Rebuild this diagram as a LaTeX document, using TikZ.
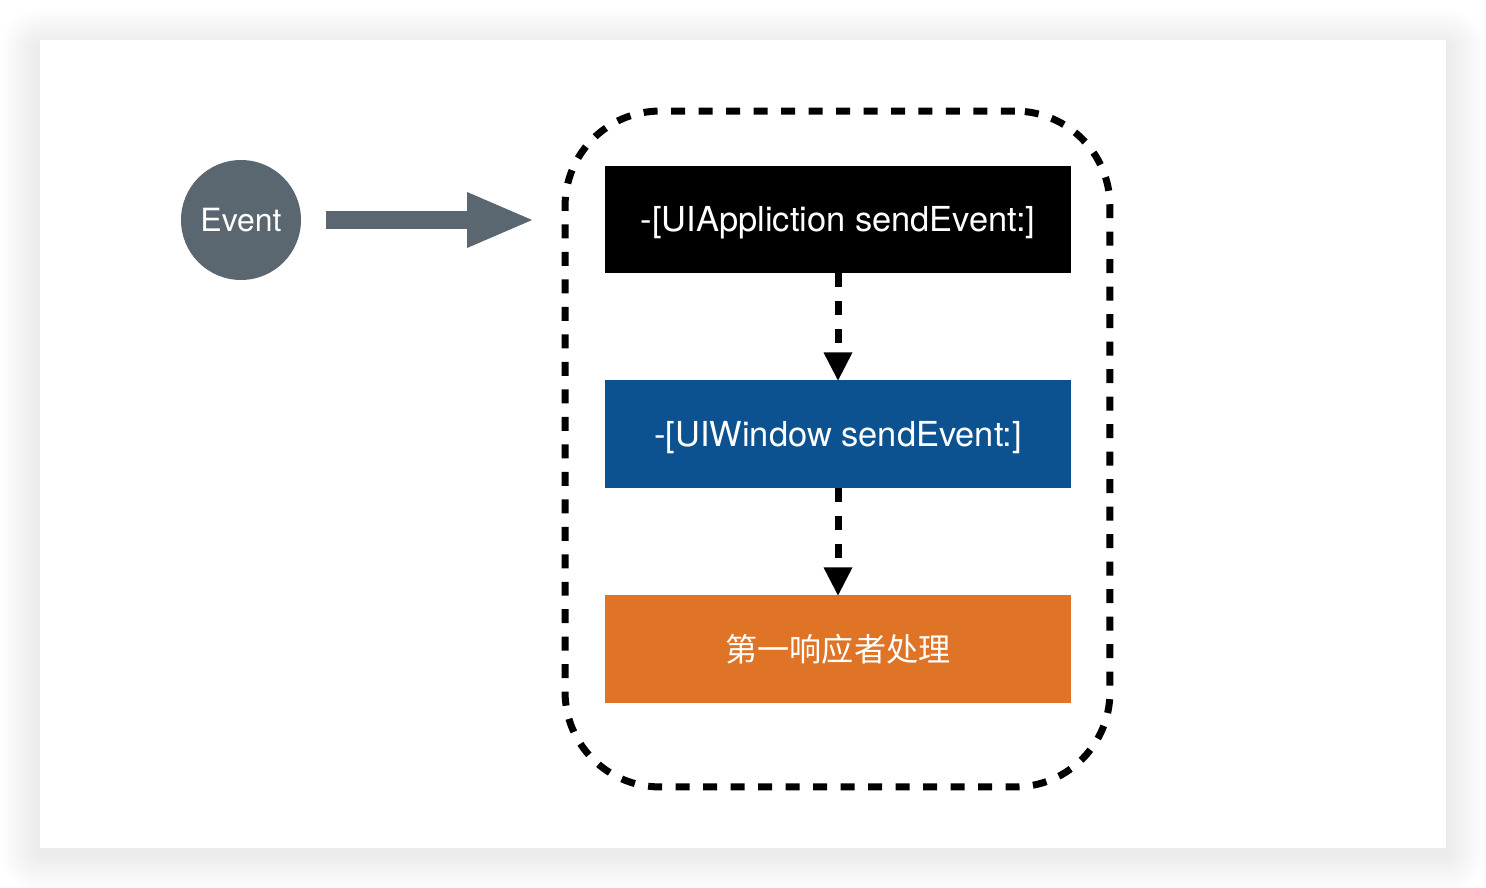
\documentclass[tikz,border=0pt]{standalone}
\usepackage{fontspec}
\setmainfont{TeX Gyre Heros}
\newfontfamily\cjk{Noto Sans CJK SC}
\usepackage{tikz}
\usetikzlibrary{shapes,arrows,arrows.meta,positioning,calc}
\definecolor{eventgray}{HTML}{5A6670}
\definecolor{windowblue}{HTML}{0C5190}
\definecolor{responderorange}{HTML}{E07426}

\begin{document}
\begin{tikzpicture}[x=0.02cm, y=-0.02cm, node distance=2.14cm,
  box/.style={minimum width=9.32cm, minimum height=2.16cm, inner sep=0pt, outer sep=0pt, text height=14.1pt, text depth=0pt, text=white, font=\fontsize{19.6}{23}\selectfont},
  event/.style={circle, fill=eventgray, minimum size=2.4cm, inner sep=0pt, outer sep=0pt, text=white, font=\fontsize{18.2}{22}\selectfont},
  group/.style={draw, line width=0.14cm, dash pattern=on 0.28cm off 0.27cm, rounded corners=1.9cm, minimum width=10.9cm, minimum height=13.52cm, outer sep=0pt},
  bigarrow/.style={eventgray, line width=0.36cm, -{Triangle[length=1.3cm, width=1.12cm, line width=0pt]}},
  flow/.style={line width=0.14cm, dash pattern=on 0.28cm off 0.28cm, -{Triangle[length=0.56cm, width=0.58cm, line width=0pt]}}]
  \useasboundingbox[fill=white] (0,0) rectangle (1486,888);
  \foreach \s [evaluate=\s as \r using \s*0.02] in {2,4,...,40}
    \fill[black, opacity=0.0035, rounded corners=\r cm] (40-\s,48-\s) rectangle (1446+\s,852+\s);
  \fill[white] (40,40) rectangle (1446,848);
  \node [event] (event) at (241,220) {Event};
  \node [group] (group) at (837.5,449) {};
  \node [box, fill=black] (app) at (838,219.5) {-[UIAppliction sendEvent:]};
  \node [box, fill=windowblue, below=of app] (window) {-[UIWindow sendEvent:]};
  \node [box, fill=responderorange, below=of window, font=\cjk\fontsize{18.3}{22}\selectfont] (responder) {第一响应者处理};
  \draw [bigarrow] ([xshift=0.5cm]event.east) -- ([xshift=-0.66cm]event.east -| group.west);
  \draw [flow] (app) -- (window);
  \draw [flow] (window) -- (responder);
\end{tikzpicture}
\end{document}
